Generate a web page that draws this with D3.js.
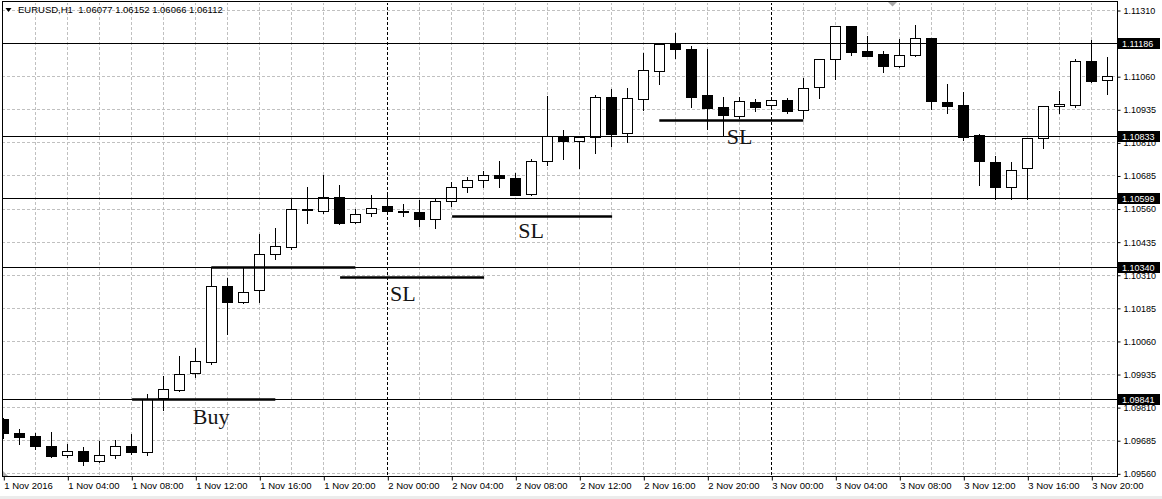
<!DOCTYPE html>
<html><head><meta charset="utf-8">
<script src="https://cdn.jsdelivr.net/npm/d3@7"></script>
<style>html,body{margin:0;padding:0;background:#fff;overflow:hidden}</style>
</head><body>
<svg id="c" width="1162" height="499"></svg>
<script>
// ---------- DATA ----------
const symbolTitle = "EURUSD,H1";
const headerQuote = ["1.06077", "1.06152", "1.06066", "1.06112"];
const startTime = "2016-11-01T00:00:00Z";

const openPrices = [1.09765,1.09714,1.09701,1.09665,1.09628,1.09644,1.09605,1.09630,1.09663,1.09642,
  1.09843,1.09874,1.09938,1.09982,1.10268,1.10208,1.10251,1.10387,1.10416,1.10557,
  1.10550,1.10603,1.10508,1.10542,1.10569,1.10550,1.10546,1.10522,1.10587,1.10640,
  1.10668,1.10687,1.10675,1.10616,1.10739,1.10831,1.10814,1.10829,1.10980,1.10844,
  1.10975,1.11081,1.11183,1.11162,1.10988,1.10943,1.10911,1.10963,1.10950,1.10970,
  1.10931,1.11018,1.11124,1.11250,1.11155,1.11143,1.11097,1.11139,1.11204,1.10963,
  1.10951,1.10838,1.10737,1.10643,1.10712,1.10825,1.10946,1.10952,1.11117,1.11046];
const highPrices = [1.09769,1.09729,1.09714,1.09716,1.09670,1.09660,1.09682,1.09686,1.09710,1.09860,
  1.09928,1.10004,1.10032,1.10338,1.10299,1.10338,1.10464,1.10486,1.10597,1.10640,
  1.10687,1.10649,1.10557,1.10611,1.10615,1.10577,1.10592,1.10596,1.10660,1.10680,
  1.10701,1.10740,1.10693,1.10746,1.10985,1.10857,1.10834,1.10990,1.11012,1.11014,
  1.11148,1.11185,1.11222,1.11174,1.11162,1.10980,1.10980,1.10974,1.10981,1.10978,
  1.11053,1.11125,1.11251,1.11251,1.11212,1.11155,1.11199,1.11253,1.11206,1.11031,
  1.11001,1.10840,1.10759,1.10737,1.10827,1.10949,1.11005,1.11124,1.11197,1.11131];
const lowPrices = [1.09695,1.09671,1.09652,1.09620,1.09622,1.09592,1.09603,1.09619,1.09634,1.09629,
  1.09799,1.09871,1.09925,1.09972,1.10087,1.10204,1.10207,1.10368,1.10408,1.10504,
  1.10542,1.10501,1.10504,1.10533,1.10547,1.10532,1.10495,1.10488,1.10571,1.10621,
  1.10643,1.10643,1.10611,1.10612,1.10725,1.10746,1.10712,1.10771,1.10796,1.10813,
  1.10933,1.11031,1.11128,1.10945,1.10859,1.10838,1.10901,1.10930,1.10940,1.10922,
  1.10902,1.10979,1.11048,1.11139,1.11136,1.11077,1.11096,1.11136,1.10935,1.10922,
  1.10819,1.10648,1.10595,1.10595,1.10595,1.10790,1.10922,1.10945,1.11038,1.10993];
const closePrices = [1.09714,1.09699,1.09665,1.09625,1.09643,1.09605,1.09628,1.09662,1.09642,1.09841,
  1.09877,1.09935,1.09983,1.10268,1.10208,1.10244,1.10388,1.10418,1.10557,1.10553,
  1.10603,1.10504,1.10538,1.10563,1.10552,1.10548,1.10522,1.10587,1.10640,1.10668,
  1.10687,1.10674,1.10612,1.10740,1.10833,1.10814,1.10830,1.10980,1.10843,1.10977,
  1.11082,1.11183,1.11162,1.10983,1.10941,1.10912,1.10966,1.10945,1.10970,1.10930,
  1.11014,1.11124,1.11250,1.11153,1.11137,1.11097,1.11139,1.11204,1.10965,1.10949,
  1.10831,1.10740,1.10643,1.10706,1.10825,1.10947,1.10954,1.11116,1.11042,1.11060];

const priceTicks = [1.09560,1.09685,1.09810,1.09935,1.10060,1.10185,1.10310,1.10435,
  1.10560,1.10685,1.10810,1.10935,1.11060,1.11185,1.11310];
const timeTickBars = [0,4,8,12,16,20,24,28,32,36,40,44,48,52,56,60,64,68];
const timeTickLabels = ["1 Nov 2016","1 Nov 04:00","1 Nov 08:00","1 Nov 12:00","1 Nov 16:00","1 Nov 20:00",
  "2 Nov 00:00","2 Nov 04:00","2 Nov 08:00","2 Nov 12:00","2 Nov 16:00","2 Nov 20:00",
  "3 Nov 00:00","3 Nov 04:00","3 Nov 08:00","3 Nov 12:00","3 Nov 16:00","3 Nov 20:00"];
const daySeparatorBars = [24, 48];

const levelPrices = [1.11186, 1.10833, 1.10599, 1.10340, 1.09841];
const levelLabels = ["1.11186", "1.10833", "1.10599", "1.10340", "1.09841"];

const segmentStartBar = [8.05, 13, 21.05, 28.05, 41];
const segmentEndBar   = [17, 22, 30.05, 38.05, 50];
const segmentPrice    = [1.09841, 1.10340, 1.10300, 1.10532, 1.10896];

const noteText  = ["Buy", "SL", "SL", "SL"];
const noteBar   = [11.84, 24.17, 32.19, 45.21];
const notePrice = [1.09748, 1.10209, 1.10447, 1.10804];

// ---------- CHART ----------
const svg = d3.select("#c");
const W = 1162, H = 499;
const plot = {left: 2, top: 2, right: 1117, bottom: 476};

const candles = openPrices.map((o, i) => ({i, o, h: highPrices[i], l: lowPrices[i], c: closePrices[i]}));
const t0 = new Date(startTime);

const x = d3.scaleLinear().domain([0, candles.length - 1]).range([3.3, 3.3 + 16 * (candles.length - 1)]);
const y = d3.scaleLinear().domain([1.09560, 1.11310]).range([473.3, 10]);
const px = v => Math.round(x(v));
const py = v => Math.round(y(v));

svg.append("rect").attr("width", W).attr("height", H).attr("fill", "#fff");
svg.append("rect").attr("x", 0).attr("y", 496).attr("width", W).attr("height", 3).attr("fill", "#ececec");

const clip = svg.append("defs").append("clipPath").attr("id", "pc")
  .append("rect").attr("x", plot.left + 1).attr("y", plot.top + 1)
  .attr("width", plot.right - plot.left - 1).attr("height", plot.bottom - plot.top - 1);

const g = svg.append("g").attr("clip-path", "url(#pc)");

// grid
const gridColor = "#c0c0c0";
g.selectAll(".hg").data(priceTicks).join("line")
  .attr("x1", plot.left).attr("x2", plot.right)
  .attr("y1", d => py(d) + 0.5).attr("y2", d => py(d) + 0.5)
  .attr("stroke", gridColor).attr("stroke-dasharray", "3,2");
const vGrid = d3.range(2, candles.length, 2).filter(k => !daySeparatorBars.includes(k));
g.selectAll(".vg").data(vGrid).join("line")
  .attr("x1", d => px(d) + 0.5).attr("x2", d => px(d) + 0.5)
  .attr("y1", plot.top).attr("y2", plot.bottom)
  .attr("stroke", gridColor).attr("stroke-dasharray", "3,2");
g.selectAll(".ds").data(daySeparatorBars).join("line")
  .attr("x1", d => px(d) + 0.5).attr("x2", d => px(d) + 0.5)
  .attr("y1", plot.top).attr("y2", plot.bottom)
  .attr("stroke", "#000").attr("stroke-dasharray", "3,2");

// candles
const cg = g.append("g");
cg.selectAll(".wick").data(candles).join("line")
  .attr("x1", d => px(d.i) + 0.5).attr("x2", d => px(d.i) + 0.5)
  .attr("y1", d => py(d.h)).attr("y2", d => py(d.l) + 1)
  .attr("stroke", "#000").attr("stroke-width", 1);
cg.selectAll(".body").data(candles).join("rect")
  .attr("x", d => px(d.i) - 4.5)
  .attr("width", 10)
  .attr("y", d => py(Math.max(d.o, d.c)) + 0.5)
  .attr("height", d => Math.max(0, py(Math.min(d.o, d.c)) - py(Math.max(d.o, d.c))))
  .attr("fill", d => d.c >= d.o ? "#fff" : "#000")
  .attr("stroke", "#000").attr("stroke-width", 1);

// level lines
g.selectAll(".lvl").data(levelPrices).join("line")
  .attr("x1", plot.left).attr("x2", plot.right)
  .attr("y1", d => py(d) + 0.5).attr("y2", d => py(d) + 0.5)
  .attr("stroke", "#000").attr("stroke-width", 1);

// annotation segments
g.selectAll(".seg").data(segmentPrice.map((p, i) => ({p, a: segmentStartBar[i], b: segmentEndBar[i]}))).join("line")
  .attr("x1", d => x(d.a)).attr("x2", d => x(d.b))
  .attr("y1", d => py(d.p) + 0.5).attr("y2", d => py(d.p) + 0.5)
  .attr("stroke", "#000").attr("stroke-width", 2.5);

// notes
g.selectAll(".note").data(noteText.map((t, i) => ({t, k: noteBar[i], p: notePrice[i]}))).join("text")
  .attr("x", d => x(d.k)).attr("y", d => y(d.p))
  .attr("font-family", "'Liberation Serif', 'DejaVu Serif', serif")
  .attr("font-size", 22).attr("fill", "#151515")
  .text(d => d.t);

// header
svg.append("path").attr("d", "M5.5,8 L11.5,8 L8.5,12 Z").attr("fill", "#000");
svg.append("text").attr("x", 18).attr("y", 13)
  .attr("font-family", "'Liberation Sans', Arial, sans-serif").attr("font-size", 9.5).attr("fill", "#000")
  .attr("xml:space", "preserve")
  .text(symbolTitle + "  " + headerQuote.join(" "));

// shift marker & scroll marker
svg.append("path").attr("d", "M888,2 L897,2 L892.5,6.5 Z").attr("fill", "#a8a8a8");
svg.append("path").attr("d", "M3,471 L3,476 L8,476 Z").attr("fill", "#b0b0b0");

// border
svg.append("rect").attr("x", plot.left + 0.5).attr("y", plot.top - 0.5)
  .attr("width", plot.right - plot.left).attr("height", plot.bottom - plot.top + 1)
  .attr("fill", "none").attr("stroke", "#000");

// right price axis
const yAxis = d3.axisRight(y).tickValues(priceTicks).tickFormat(d3.format(".5f")).tickSize(3).tickPadding(3);
const ya = svg.append("g").attr("transform", `translate(${plot.right + 0.5},0.5)`).call(yAxis);
ya.select(".domain").remove();
ya.selectAll("line").attr("stroke", "#000");
ya.selectAll("text").attr("font-family", "'Liberation Sans', Arial, sans-serif").attr("font-size", 9).attr("fill", "#000");

// level price boxes
const lb = svg.append("g");
levelPrices.forEach((p, i) => {
  const yy = py(p);
  lb.append("rect").attr("x", plot.right + 1).attr("y", yy - 5).attr("width", 42).attr("height", 11).attr("fill", "#000");
  lb.append("text").attr("x", plot.right + 5).attr("y", yy + 0.5).attr("dy", "0.35em")
    .attr("font-family", "'Liberation Sans', Arial, sans-serif").attr("font-size", 9).attr("fill", "#fff")
    .text(levelLabels[i]);
});

// bottom time axis
const xAxis = d3.axisBottom(x).tickValues(timeTickBars).tickFormat((d, i) => timeTickLabels[i]).tickSize(4).tickPadding(2);
const xa = svg.append("g").attr("transform", `translate(0.5,${plot.bottom + 0.5})`).call(xAxis);
xa.select(".domain").remove();
xa.selectAll("line").attr("stroke", "#000");
xa.selectAll("text").attr("text-anchor", "start").attr("dx", "0")
  .attr("font-family", "'Liberation Sans', Arial, sans-serif").attr("font-size", 9.5).attr("fill", "#000");
</script>
</body></html>
